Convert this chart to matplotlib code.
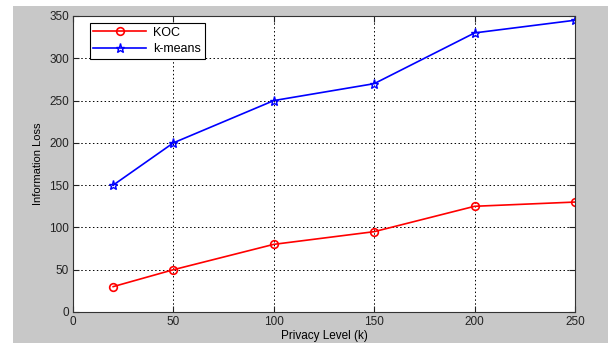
import matplotlib
matplotlib.use("Agg")
import matplotlib.pyplot as plt
from matplotlib.patches import Rectangle

privacy_levels = [20, 50, 100, 150, 200, 250]
koc_loss = [30, 50, 80, 95, 125, 130]
kmeans_loss = [150, 200, 250, 270, 330, 345]
x_ticks = [0, 50, 100, 150, 200, 250]
y_ticks = [0, 50, 100, 150, 200, 250, 300, 350]

plt.rcParams['font.family'] = ['Liberation Sans', 'DejaVu Sans']

W, H = 608, 343
fig = plt.figure(figsize=(W / 100, H / 100), dpi=100, facecolor='white')
# gray figure panel behind the axes
fig.patches.append(Rectangle((13 / W, 0), 1 - 13 / W, 1 - 6 / H,
                             transform=fig.transFigure, facecolor='#c8c8c8',
                             edgecolor='none', zorder=-10))

ax = fig.add_axes([73 / W, 1 - 312 / H, (575 - 73) / W, (312 - 16) / H])
ax.set_zorder(1)
ax.set_facecolor('white')

ax.plot(privacy_levels, koc_loss, color='#ff0000', lw=1.2, marker='o',
        ms=5.5, mfc='none', mew=1.2, label='KOC')
ax.plot(privacy_levels, kmeans_loss, color='#0000ff', lw=1.2, marker='*',
        ms=6.5, mfc='none', mew=1.0, label='k-means')

ax.set_xlim(0, 250)
ax.set_ylim(0, 350)
ax.set_xticks(x_ticks)
ax.set_yticks(y_ticks)
ax.grid(True, color='black', linestyle=(0, (1.5, 2.5)), linewidth=0.7)
ax.set_axisbelow(True)
ax.tick_params(direction='in', length=4, labelsize=8.5, colors='#222222',
               top=True, right=True, pad=3)
for s in ax.spines.values():
    s.set_color('#333333')
    s.set_linewidth(0.8)

ax.set_xlabel('Privacy Level (k)', fontsize=8.5, labelpad=1)
ax.set_ylabel('Information Loss', fontsize=8, labelpad=4)

leg = ax.legend(loc='upper left', bbox_to_anchor=(0.033, 0.977), fontsize=9,
                fancybox=False, framealpha=1, edgecolor='black',
                handlelength=4.2, borderpad=0.3, labelspacing=0.35,
                handletextpad=0.6, borderaxespad=0)
leg.get_frame().set_linewidth(0.8)

fig.savefig('out.png', dpi=100, facecolor=fig.get_facecolor())
